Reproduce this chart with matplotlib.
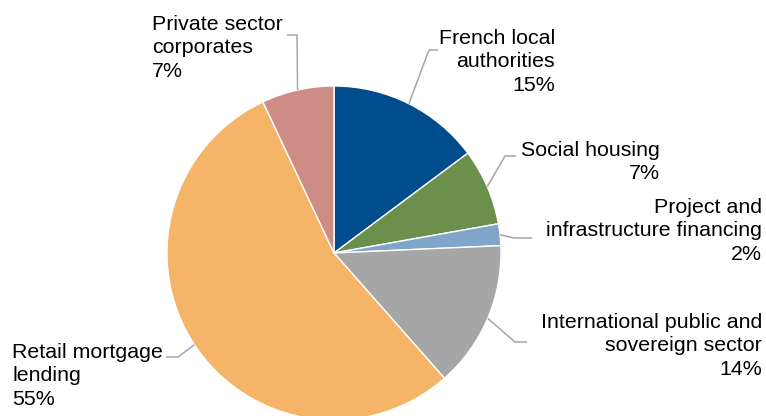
import numpy as np
import matplotlib
matplotlib.use("Agg")
import matplotlib.pyplot as plt

# ---- data ----
categories = ["French local\nauthorities", "Social housing", "Project and\ninfrastructure financing",
              "International public and\nsovereign sector", "Retail mortgage\nlending",
              "Private sector\ncorporates"]
shares = [14.8, 7.4, 2.1, 14.2, 54.5, 7.0]
pct_labels = ["15%", "7%", "2%", "14%", "55%", "7%"]
colors = ["#004C8C", "#6A904C", "#7FA6CA", "#A6A6A6", "#F5B467", "#CD8C86"]

W, H = 766, 416
fig = plt.figure(figsize=(W / 100, H / 100), dpi=100)
ax = fig.add_axes([0, 0, 1, 1])
ax.set_xlim(0, W)
ax.set_ylim(0, H)
ax.set_aspect("equal")
ax.axis("off")

cx, cy, R = 334, H - 253, 167
ax.pie(shares, colors=colors, startangle=90, counterclock=False, center=(cx, cy), radius=R,
       wedgeprops=dict(edgecolor="white", linewidth=1.0), frame=False)
ax.set_xlim(0, W)
ax.set_ylim(0, H)

# label layout: (elbow point, line end, text anchor, ha) in pixel coords (y from top)
layout = [
    ((429, 50), (438, 50), (555, 29), "right"),
    ((505, 156), (516, 156), (660, 141), "right"),
    ((514, 238), (532, 238), (762, 198), "right"),
    ((515, 342), (527, 342), (762, 313), "right"),
    ((178, 357), (166, 357), (12, 343), "left"),
    ((297, 35), (287, 35), (152, 15), "left"),
]

fs = 15.4
total = sum(shares)
cum = 0.0
for cat, s, pl, (elb, end, tpos, ha) in zip(categories, shares, pct_labels, layout):
    mid = (cum + s / 2) / total * 360.0
    cum += s
    ang = np.deg2rad(90 - mid)
    sx, sy = cx + R * np.cos(ang), cy + R * np.sin(ang)
    ax.plot([sx, elb[0], end[0]], [sy, H - elb[1], H - end[1]], color="#A6A6A6", lw=1.1,
            solid_capstyle="butt")
    ax.text(tpos[0], H - tpos[1], cat + "\n" + pl, ha=ha, va="top", fontsize=fs,
            family="Liberation Sans", color="#000000", linespacing=1.29, multialignment=ha)

fig.savefig("out.png", dpi=100)
